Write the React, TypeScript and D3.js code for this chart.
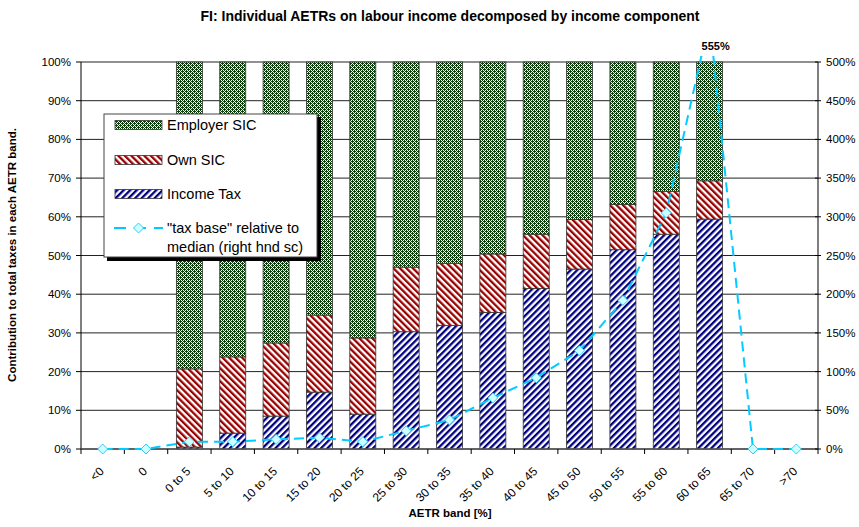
import React from "react";
import * as d3 from "d3";

// AETR bands on the x axis
const categories = ["<0", "0", "0 to 5", "5 to 10", "10 to 15", "15 to 20", "20 to 25", "25 to 30", "30 to 35", "35 to 40", "40 to 45", "45 to 50", "50 to 55", "55 to 60", "60 to 65", "65 to 70", ">70"];

// share of total taxes (%), per band
const incomeTax = [0, 0, 0.5, 4.1, 8.5, 14.7, 9.0, 30.3, 31.9, 35.3, 41.5, 46.5, 51.5, 55.5, 59.4, 0, 0];
const ownSic = [0, 0, 20.2, 19.7, 18.9, 19.9, 19.7, 16.7, 16.1, 15.1, 14.0, 12.8, 11.7, 11.1, 9.9, 0, 0];
const employerSic = [0, 0, 79.3, 76.2, 72.6, 65.4, 71.3, 53.0, 52.0, 49.6, 44.5, 40.7, 36.8, 33.4, 30.7, 0, 0];

// "tax base" relative to median (%), right axis
const taxBase = [0, 0, 9.4, 9.4, 12.5, 14.6, 9.4, 23.5, 37.5, 66, 92, 127, 192, 305, 555, 0, 0];

const leftTicks = [0, 10, 20, 30, 40, 50, 60, 70, 80, 90, 100];
const rightTicks = [0, 50, 100, 150, 200, 250, 300, 350, 400, 450, 500];

const series = [
  { key: "Income Tax", values: incomeTax, fill: "url(#pBlue)" },
  { key: "Own SIC", values: ownSic, fill: "url(#pRed)" },
  { key: "Employer SIC", values: employerSic, fill: "url(#pGreen)" },
];

const FONT = "'Liberation Sans', Arial, sans-serif";

export default function App() {
  const width = 859,
    height = 527;
  const left = 81,
    right = 818,
    top = 62,
    bottom = 449;

  const x = d3.scaleBand().domain(categories).range([left, right]).paddingInner(0.4).paddingOuter(0.2);
  const yL = d3.scaleLinear().domain([0, 100]).range([bottom, top]);
  const yR = d3.scaleLinear().domain([0, 500]).range([bottom, top]);
  const step = x.step();
  const cx = (c) => x(c) + x.bandwidth() / 2;

  // stacked shares
  const stacked = categories.map((c, i) => {
    let acc = 0;
    return series.map((s) => {
      const y0 = acc;
      acc += s.values[i];
      return { c, key: s.key, fill: s.fill, y0, y1: acc };
    });
  });

  const line = d3
    .line()
    .x((d) => cx(d[0]))
    .y((d) => yR(d[1]));
  const linePts = categories.map((c, i) => [c, taxBase[i]]);

  const diamond = (px, py, r = 5) => `M${px},${py - r}L${px + r},${py}L${px},${py + r}L${px - r},${py}Z`;

  return (
    <svg width={width} height={height} style={{ position: "absolute", left: 0, top: 0, background: "#fff" }} fontFamily={FONT}>
      <defs>
        <pattern id="pGreen" patternUnits="userSpaceOnUse" width="4" height="4">
          <rect width="4" height="4" fill="#0c3f0c" />
          <rect x="1" y="0" width="1" height="1" fill="#fff" />
          <rect x="2" y="1" width="1" height="1" fill="#fff" />
          <rect x="3" y="2" width="1" height="1" fill="#fff" />
          <rect x="0" y="3" width="1" height="1" fill="#fff" />
          <rect x="3" y="0" width="1" height="1" fill="#fff" />
          <rect x="1" y="2" width="1" height="1" fill="#fff" />
        </pattern>
        <pattern id="pRed" patternUnits="userSpaceOnUse" width="4.6" height="4.6" patternTransform="rotate(-45)">
          <rect width="4.6" height="4.6" fill="#fff" />
          <rect width="2.3" height="4.6" fill="#990000" />
        </pattern>
        <pattern id="pBlue" patternUnits="userSpaceOnUse" width="4.6" height="4.6" patternTransform="rotate(45)">
          <rect width="4.6" height="4.6" fill="#fff" />
          <rect width="2.3" height="4.6" fill="#000080" />
        </pattern>
        <clipPath id="plotClip">
          <rect x={left - 10} y={top - 6} width={right - left + 20} height={bottom - top + 20} />
        </clipPath>
      </defs>

      {/* title */}
      <text x={450} y={21} textAnchor="middle" fontSize={14} fontWeight="bold">
        FI: Individual AETRs on labour income decomposed by income component
      </text>

      {/* gridlines */}
      {leftTicks.map((t) => (
        <line key={"g" + t} x1={left} x2={right} y1={yL(t)} y2={yL(t)} stroke="#222" strokeWidth={1} />
      ))}

      {/* bars */}
      {stacked.map((segs) =>
        segs
          .filter((s) => s.y1 > s.y0)
          .map((s) => (
            <rect
              key={s.c + s.key}
              x={x(s.c)}
              y={yL(s.y1)}
              width={x.bandwidth()}
              height={yL(s.y0) - yL(s.y1)}
              fill={s.fill}
              stroke="#333"
              strokeWidth={0.8}
            />
          ))
      )}

      {/* axes */}
      <line x1={left} x2={left} y1={top} y2={bottom} stroke="#000" />
      <line x1={right} x2={right} y1={top} y2={bottom} stroke="#555" strokeWidth={1.5} />
      <line x1={left} x2={right} y1={bottom} y2={bottom} stroke="#555" strokeWidth={1.5} />
      {leftTicks.map((t) => (
        <g key={"l" + t}>
          <line x1={left - 5} x2={left} y1={yL(t)} y2={yL(t)} stroke="#000" />
          <text x={71} y={yL(t)} dy="0.35em" textAnchor="end" fontSize={11.5}>
            {t}%
          </text>
        </g>
      ))}
      {rightTicks.map((t) => (
        <g key={"r" + t}>
          <line x1={right - 3} x2={right + 3} y1={yR(t)} y2={yR(t)} stroke="#000" />
          <text x={826} y={yR(t)} dy="0.35em" textAnchor="start" fontSize={11.5}>
            {t}%
          </text>
        </g>
      ))}
      {d3.range(categories.length + 1).map((i) => (
        <line key={"xt" + i} x1={left + i * step} x2={left + i * step} y1={bottom} y2={bottom + 5} stroke="#000" />
      ))}
      {categories.map((c) => (
        <text
          key={"xl" + c}
          transform={`translate(${cx(c) - 4},${bottom + 17}) rotate(-45)`}
          textAnchor="end"
          dy="0.7em"
          fontSize={12}
        >
          {c}
        </text>
      ))}

      {/* axis titles */}
      <text transform={`translate(16,255) rotate(-90)`} textAnchor="middle" fontSize={11.5} fontWeight="bold">
        Contribution to total taxes in each AETR band.
      </text>
      <text x={450} y={517} textAnchor="middle" fontSize={11.5} fontWeight="bold">
        AETR band [%]
      </text>

      {/* tax base line */}
      <g clipPath="url(#plotClip)">
        <path d={line(linePts)} fill="none" stroke="#00ccff" strokeWidth={2} strokeDasharray="10,6" />
        {linePts.map((d) => (
          <path key={"m" + d[0]} d={diamond(cx(d[0]), yR(d[1]))} fill="#ccffff" stroke="#33ccff" strokeWidth={1} />
        ))}
      </g>
      <text x={cx("60 to 65") + 6} y={50} textAnchor="middle" fontSize={11} fontWeight="bold">
        555%
      </text>

      {/* legend */}
      <g>
        <rect x={107} y={117} width={214} height={144} fill="#000" />
        <rect x={104} y={114} width={213} height={143} fill="#fff" stroke="#444" strokeWidth={1} />
        {[
          { label: "Employer SIC", fill: "url(#pGreen)", y: 125 },
          { label: "Own SIC", fill: "url(#pRed)", y: 160 },
          { label: "Income Tax", fill: "url(#pBlue)", y: 194 },
        ].map((l) => (
          <g key={l.label}>
            <rect x={115} y={l.y - 4.5} width={47} height={9} fill={l.fill} stroke="#333" strokeWidth={0.8} />
            <text x={167} y={l.y} dy="0.36em" fontSize={14.5}>
              {l.label}
            </text>
          </g>
        ))}
        <line x1={114} x2={163} y1={228} y2={228} stroke="#00ccff" strokeWidth={2} strokeDasharray="12,8" strokeDashoffset={0} />
        <path d={diamond(138.5, 228)} fill="#ccffff" stroke="#33ccff" />
        <text x={167} y={228} dy="0.36em" fontSize={14.5}>
          "tax base" relative to
        </text>
        <text x={167} y={247} dy="0.36em" fontSize={14.5}>
          median (right hnd sc)
        </text>
      </g>
    </svg>
  );
}
